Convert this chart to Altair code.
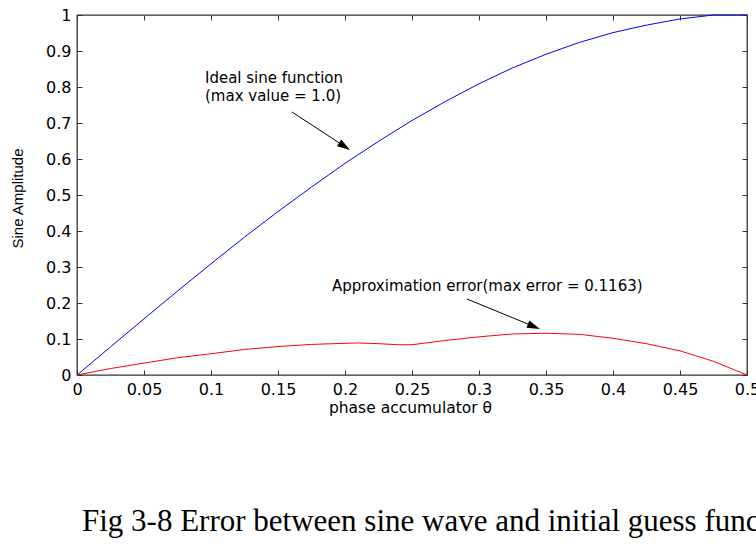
import altair as alt
import pandas as pd

# ---- data ----
theta = [0, 0.025, 0.05, 0.075, 0.1, 0.125, 0.15, 0.175, 0.2, 0.225, 0.25,
         0.275, 0.3, 0.325, 0.35, 0.375, 0.4, 0.425, 0.45, 0.475, 0.5]
ideal = [0, 0.078, 0.156, 0.233, 0.309, 0.383, 0.454, 0.522, 0.588, 0.649, 0.707,
         0.760, 0.809, 0.853, 0.891, 0.924, 0.951, 0.972, 0.989, 1.0, 1.0]

theta_err = [0, 0.025, 0.05, 0.075, 0.1, 0.125, 0.15, 0.175, 0.2, 0.21, 0.225, 0.24,
             0.25, 0.275, 0.3, 0.325, 0.35, 0.375, 0.4, 0.425, 0.45, 0.475, 0.5]
error = [0, 0.018, 0.033, 0.048, 0.059, 0.071, 0.079, 0.085, 0.088, 0.089, 0.087, 0.084,
         0.084, 0.096, 0.106, 0.114, 0.116, 0.113, 0.102, 0.087, 0.067, 0.038, 0]

x_ticks = [0, 0.05, 0.1, 0.15, 0.2, 0.25, 0.3, 0.35, 0.4, 0.45, 0.5]
y_ticks = [0, 0.1, 0.2, 0.3, 0.4, 0.5, 0.6, 0.7, 0.8, 0.9, 1]

ann_text = ["Ideal sine function", "(max value = 1.0)",
            "Approximation error(max error = 0.1163)"]
ann_x = [0.0955, 0.0955, 0.1903]
ann_y = [0.826, 0.775, 0.247]

arrow_x0 = [0.1604, 0.2910]
arrow_y0 = [0.7306, 0.2111]
arrow_x1 = [0.1997, 0.3410]
arrow_y1 = [0.635, 0.1347]
arrow_angle = [123, 112]

caption = "Fig 3-8 Error between sine wave and initial guess function"

# ---- tables ----
df_ideal = pd.DataFrame({"theta": theta, "value": ideal})
df_err = pd.DataFrame({"theta": theta_err, "value": error})
df_ann = pd.DataFrame({"text": ann_text, "x": ann_x, "y": ann_y})
df_arr = pd.DataFrame({"x0": arrow_x0, "y0": arrow_y0, "x1": arrow_x1,
                       "y1": arrow_y1, "angle": arrow_angle})

W, H = 670, 360
FONT = "DejaVu Sans"
TICK = "#333333"

xs = alt.Scale(domain=[0, 0.5], nice=False, zero=False)
ys = alt.Scale(domain=[0, 1], nice=False, zero=False)

main_x = alt.Axis(values=x_ticks, format="~g", grid=False, ticks=False, domain=False,
                  labelFont=FONT, labelFontSize=16, labelColor="black", labelPadding=6,
                  title="phase accumulator θ", titleFont=FONT, titleFontSize=15.5,
                  titleFontWeight="normal", titleColor="black",
                  titleBaseline="alphabetic", titleY=37, titleX=333, labelFlush=False)
main_y = alt.Axis(values=y_ticks, format="~g", grid=False, ticks=False, domain=False,
                  labelFont=FONT, labelFontSize=16, labelColor="black", labelPadding=6,
                  title="Sine Amplitude", titleFont="Liberation Sans",
                  titleFontSize=15, titleFontWeight="normal", titleColor="black",
                  titleAngle=270, titleAlign="center", titleBaseline="middle",
                  titleX=-60, titleY=183, labelFlush=False)


def tick_axis(values, orient, offset):
    return alt.Axis(values=values, orient=orient, offset=offset, labels=False,
                    domain=False, grid=False, ticks=True, tickSize=5,
                    tickColor=TICK, tickWidth=1, title=None)


ideal_line = alt.Chart(df_ideal).mark_line(color="#0000ff", strokeWidth=1).encode(
    x=alt.X("theta:Q", scale=xs, axis=main_x),
    y=alt.Y("value:Q", scale=ys, axis=main_y),
)

err_line = alt.Chart(df_err).mark_line(color="#ff0000", strokeWidth=1).encode(
    x=alt.X("theta:Q", scale=xs, axis=None),
    y=alt.Y("value:Q", scale=ys, axis=None),
)

# invisible layers carrying inward ticks on all four sides
ticks_bl = alt.Chart(df_ideal).mark_line(opacity=0).encode(
    x=alt.X("theta:Q", scale=xs, axis=tick_axis(x_ticks, "top", -H)),
    y=alt.Y("value:Q", scale=ys, axis=tick_axis(y_ticks, "right", -W)),
)
ticks_tr = alt.Chart(df_ideal).mark_line(opacity=0).encode(
    x=alt.X("theta:Q", scale=xs, axis=tick_axis(x_ticks, "bottom", -H)),
    y=alt.Y("value:Q", scale=ys, axis=tick_axis(y_ticks, "left", -W)),
)

ann = alt.Chart(df_ann).mark_text(align="left", baseline="middle", font=FONT,
                                  fontSize=15, color="black").encode(
    x=alt.X("x:Q", scale=xs, axis=None),
    y=alt.Y("y:Q", scale=ys, axis=None),
    text="text:N",
)

arrows = alt.Chart(df_arr).mark_rule(color="black", strokeWidth=1).encode(
    x=alt.X("x0:Q", scale=xs, axis=None),
    y=alt.Y("y0:Q", scale=ys, axis=None),
    x2="x1:Q",
    y2="y1:Q",
)

heads = alt.Chart(df_arr).mark_point(shape="M0,-1L0.6,1L-0.6,1Z", filled=True,
                                     color="black", opacity=1, size=169).encode(
    x=alt.X("x1:Q", scale=xs, axis=None),
    y=alt.Y("y1:Q", scale=ys, axis=None),
    angle=alt.Angle("angle:Q", scale=None),
)

chart = alt.layer(ticks_bl, ticks_tr, ideal_line, err_line, arrows, heads, ann).resolve_axis(
    x="independent", y="independent"
).properties(
    width=W, height=H,
    autosize=alt.AutoSizeParams(type="none"),
    padding={"left": 77, "top": 15, "right": 9, "bottom": 174},
    background="white",
    title=alt.TitleParams(caption, orient="bottom", anchor="start", frame="group",
                          font="Liberation Serif", fontSize=31, fontWeight="normal",
                          color="black", offset=91, dx=5),
).configure_view(stroke="#333333", strokeWidth=1.3)

chart.save("out.html", embed_options={"renderer": "svg", "actions": False})
